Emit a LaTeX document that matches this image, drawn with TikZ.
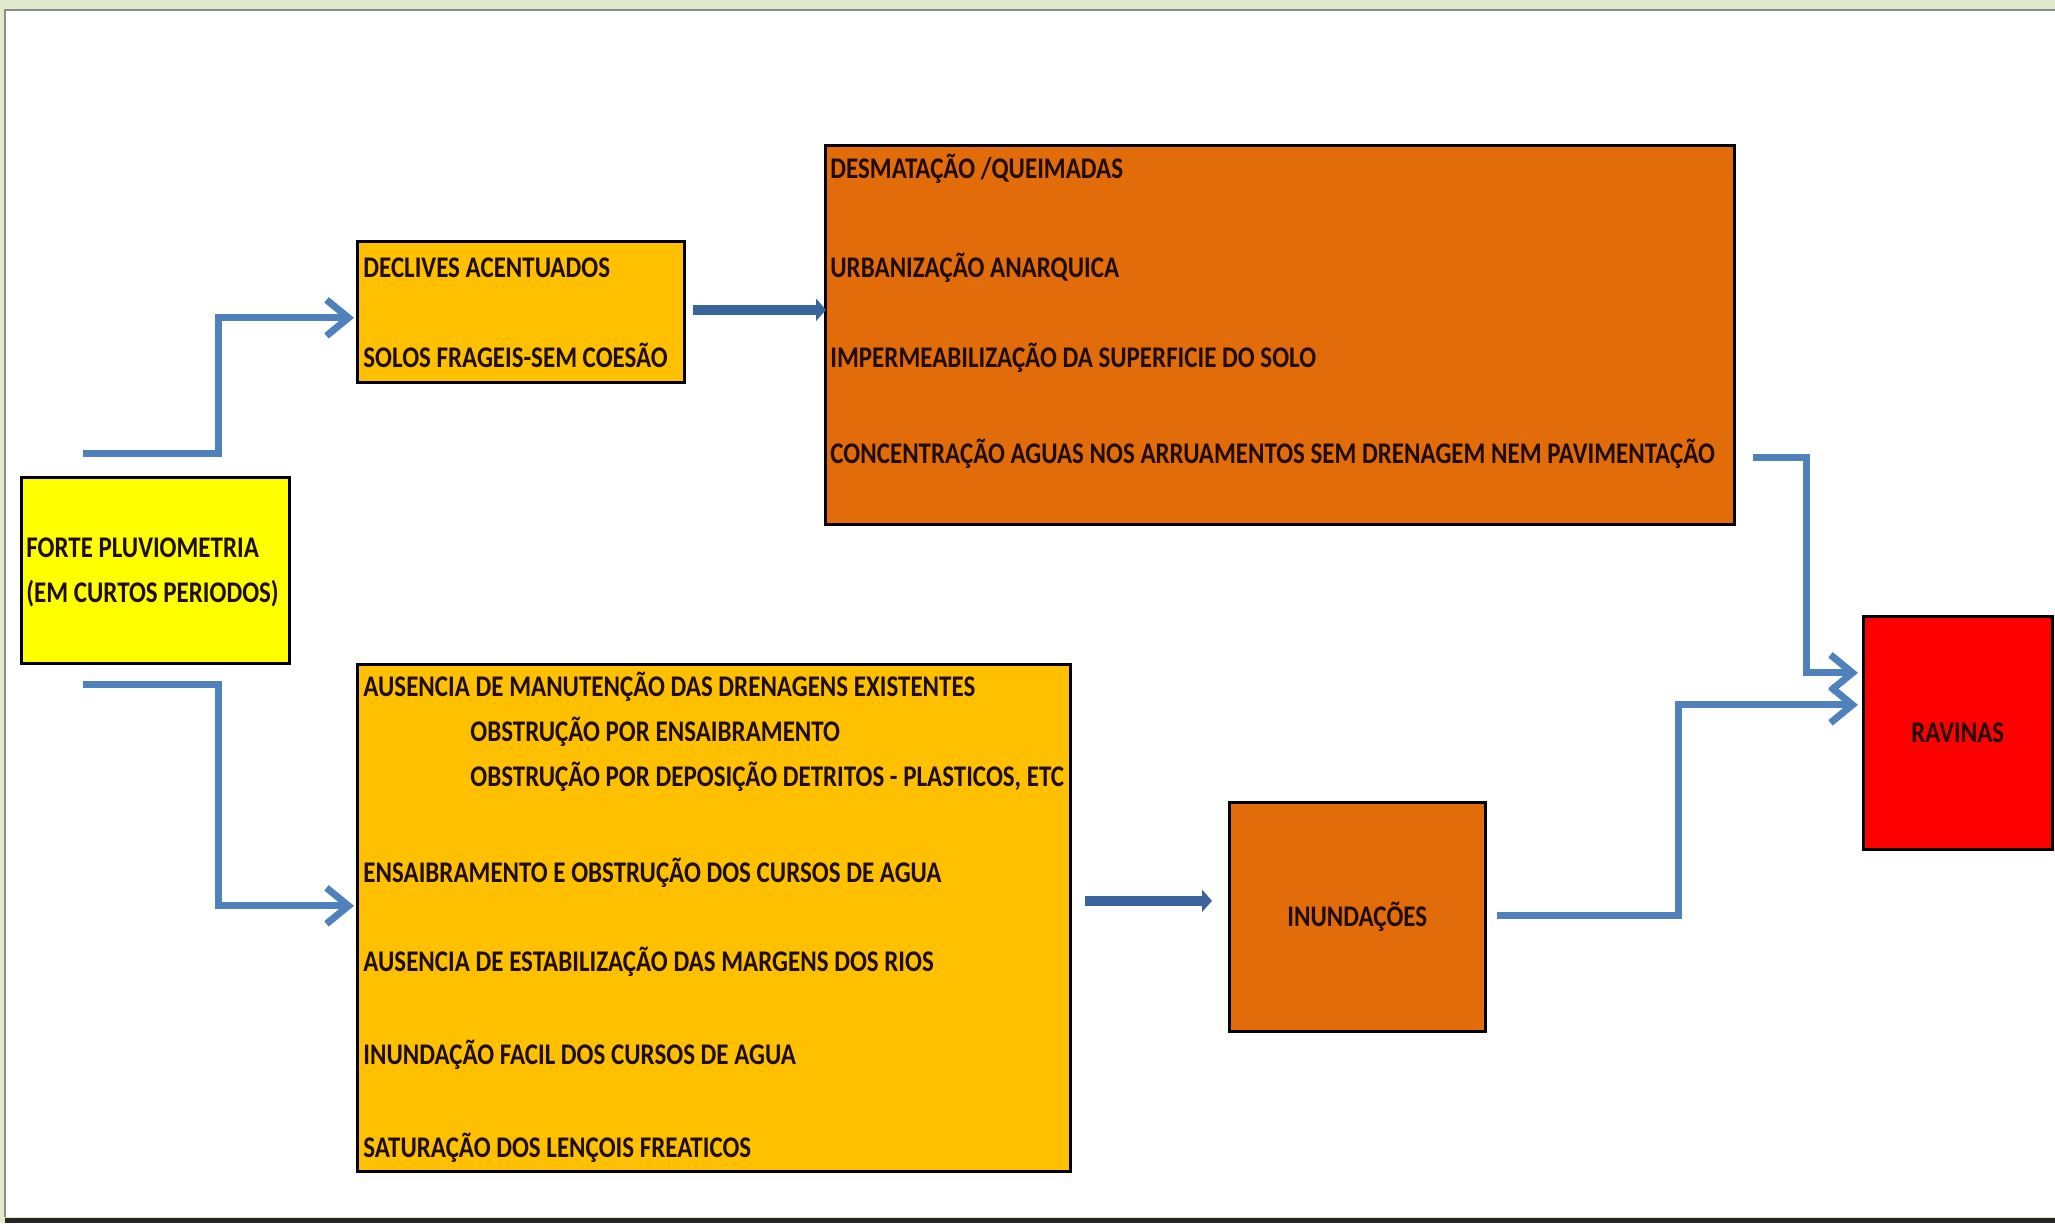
\documentclass[tikz,border=0pt]{standalone}
\usepackage{fontspec}
\setmainfont{Carlito}
\usetikzlibrary{arrows.meta,calc}
\definecolor{framegreen}{RGB}{226,233,204}
\definecolor{cyellow}{RGB}{255,255,0}
\definecolor{cgold}{RGB}{255,192,0}
\definecolor{corange}{RGB}{226,108,10}
\definecolor{cred}{RGB}{255,0,0}
\definecolor{lblue}{RGB}{79,129,189}
\definecolor{dblue}{RGB}{58,100,156}
\definecolor{txtc}{RGB}{30,14,0}
\newcommand\tallt[1]{\scalebox{1}[1.2]{#1}}
\tikzset{
  box/.style={draw=black, line width=1.3pt, anchor=north west, inner sep=0pt},
  txt/.style={anchor=base west, inner sep=0pt, font=\bfseries\fontsize{12.5pt}{14pt}\selectfont, text=txtc},
  ctxt/.style={font=\bfseries\fontsize{12.5pt}{14pt}\selectfont, text=txtc},
  larrow/.style={draw=lblue, line width=3.5pt, -{Straight Barb[length=11pt,width=18pt]}},
  darrow/.style={draw=dblue, line width=5pt, -{Triangle[length=5pt,width=11pt]}}
}
\begin{document}
\begin{tikzpicture}[x=0.5pt,y=-0.5pt]
\useasboundingbox (0,0) rectangle (2055,1223);
% frame
\fill[framegreen] (0,0) rectangle (2055,1223);
\fill[white] (5,10) rectangle (2055,1217);
\draw[black!45, line width=1pt] (5,1217) -- (5,10) -- (2055,10);
\draw[black!85, line width=2.5pt] (5,1220) -- (2055,1220);

% boxes
\node[box, fill=cyellow, minimum width=134pt, minimum height=93pt] (forte) at (20,476) {};
\node[box, fill=cgold, minimum width=163.5pt, minimum height=70.5pt] (decl) at (356,240) {};
\node[box, fill=corange, minimum width=454.5pt, minimum height=189.5pt] (desm) at (824,144) {};
\node[box, fill=cgold, minimum width=356.5pt, minimum height=253.5pt] (ausen) at (356,663) {};
\node[box, fill=corange, minimum width=128pt, minimum height=114.5pt, ctxt] (inund) at (1228,801) {\tallt{INUNDAÇÕES}};
\node[box, fill=cred, minimum width=94.5pt, minimum height=116.5pt, ctxt] (ravinas) at (1862,615) {\tallt{RAVINAS}};

% texts
\node[txt] (f1) at (26,557) {\tallt{FORTE PLUVIOMETRIA}};
\node[txt] (f2) at (26,602) {\tallt{(EM CURTOS PERIODOS)}};

\node[txt] (d1) at (363,277) {\tallt{DECLIVES ACENTUADOS}};
\node[txt] (d2) at (363,367) {\tallt{SOLOS FRAGEIS-SEM COESÃO}};

\node[txt] (m1) at (830,178) {\tallt{DESMATAÇÃO /QUEIMADAS}};
\node[txt] (m2) at (830,277) {\tallt{URBANIZAÇÃO ANARQUICA}};
\node[txt] (m3) at (830,367) {\tallt{IMPERMEABILIZAÇÃO DA SUPERFICIE DO SOLO}};
\node[txt] (m4) at (830,463) {\tallt{CONCENTRAÇÃO AGUAS NOS ARRUAMENTOS SEM DRENAGEM NEM PAVIMENTAÇÃO}};

\node[txt] (a1) at (363,696) {\tallt{AUSENCIA DE MANUTENÇÃO DAS DRENAGENS EXISTENTES}};
\node[txt] (a2) at (470,741) {\tallt{OBSTRUÇÃO POR ENSAIBRAMENTO}};
\node[txt] (a3) at (470,786) {\tallt{OBSTRUÇÃO POR DEPOSIÇÃO DETRITOS - PLASTICOS, ETC}};
\node[txt] (a4) at (363,882) {\tallt{ENSAIBRAMENTO E OBSTRUÇÃO DOS CURSOS DE AGUA}};
\node[txt] (a5) at (363,971) {\tallt{AUSENCIA DE ESTABILIZAÇÃO DAS MARGENS DOS RIOS}};
\node[txt] (a6) at (363,1064) {\tallt{INUNDAÇÃO FACIL DOS CURSOS DE AGUA}};
\node[txt] (a7) at (363,1157) {\tallt{SATURAÇÃO DOS LENÇOIS FREATICOS}};

% connector free ends
\coordinate (s1) at (83,453);
\coordinate (s2) at (83,684);
\coordinate (s4) at (1753,457);
\coordinate (s6) at (1497,915);

% connectors
\draw[larrow] (s1) -- (218,453) |- ($(decl.west)+(-2,6)$);
\draw[larrow] (s2) -- (218,684) |- ($(ausen.west)+(-2,-12)$);
\draw[darrow] ($(decl.east)+(7,-2)$) -- ($(desm.west |- decl.east)+(2,-2)$);
\draw[darrow] ($(ausen.east)+(13,-17)$) -- ($(inund.west)+(-16,-16)$);
\draw[larrow] (s4) -- (1806,457) |- ($(ravinas.west)+(-4,-60)$);
\draw[larrow] (s6) -- (1678,915) |- ($(ravinas.west)+(-4,-28)$);
\end{tikzpicture}
\end{document}
